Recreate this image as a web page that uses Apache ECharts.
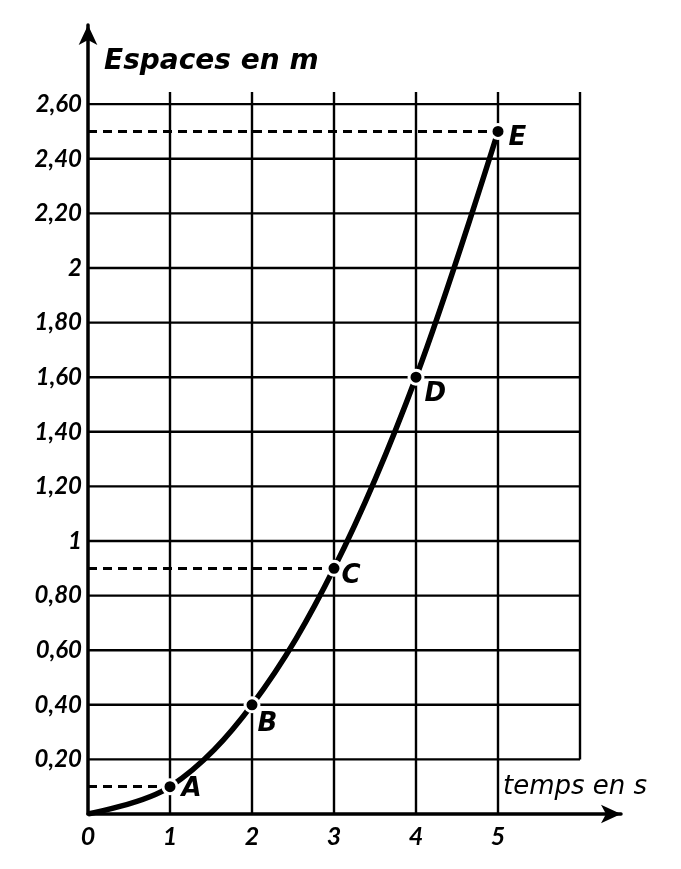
<!DOCTYPE html>
<html>
<head>
<meta charset="utf-8">
<script src="https://cdn.jsdelivr.net/npm/echarts@6/dist/echarts.min.js"></script>
<style>html,body{margin:0;padding:0;background:#fff}#c{width:681px;height:869px}</style>
</head>
<body>
<div id="c"></div>
<script>
// Data
const times = [0, 1, 2, 3, 4, 5];
const spaces = [0, 0.1, 0.4, 0.9, 1.6, 2.5];
const pointNames = ['', 'A', 'B', 'C', 'D', 'E'];
const dashedPoints = ['A', 'C', 'E'];
const xTickValues = [0, 1, 2, 3, 4, 5];
const xTickLabels = ['0', '1', '2', '3', '4', '5'];
const yTickValues = [0.2, 0.4, 0.6, 0.8, 1, 1.2, 1.4, 1.6, 1.8, 2, 2.2, 2.4, 2.6];
const yTickLabels = ['0,20', '0,40', '0,60', '0,80', '1', '1,20', '1,40', '1,60', '1,80', '2', '2,20', '2,40', '2,60'];
const xGridLines = [1, 2, 3, 4, 5, 6];
const yGridLines = [0.2, 0.4, 0.6, 0.8, 1, 1.2, 1.4, 1.6, 1.8, 2, 2.2, 2.4, 2.6];

// Styling (not data)
const INK = '#000';
const FONT = 'Lato';
const LETTER_FONT = 'DejaVu Sans';
const labelOffsets = { A: [0, 3], B: [-6, 19], C: [-4, 8], D: [-3, 17], E: [-1, 7] };

function lookup(vals, labels, v) {
  for (let i = 0; i < vals.length; i++) if (Math.abs(vals[i] - v) < 1e-6) return labels[i];
  return '';
}

const curveData = times.map((t, i) => {
  const n = pointNames[i];
  const item = { value: [t, spaces[i]], name: n };
  if (!n) {
    item.symbolSize = 0;
    item.label = { show: false };
  } else {
    item.label = { offset: labelOffsets[n] };
  }
  return item;
});
const markLines = dashedPoints.map(n => {
  const i = pointNames.indexOf(n);
  return [{ coord: [0, spaces[i]] }, { coord: [times[i], spaces[i]] }];
});

const chart = echarts.init(document.getElementById('c'));
chart.setOption({
  animation: false,
  backgroundColor: '#fff',
  grid: { left: 88, right: 60, top: 25, bottom: 55 },
  xAxis: {
    type: 'value', min: 0, max: 6.5, interval: 1,
    name: 'temps en s', nameLocation: 'end', nameGap: -118,
    nameTextStyle: { fontFamily: LETTER_FONT, fontStyle: 'italic', fontWeight: 'normal', fontSize: 26, color: INK, verticalAlign: 'bottom', padding: [0, 0, 14, 0] },
    axisLine: { lineStyle: { color: INK, width: 3.5 }, symbol: ['none', 'arrow'], symbolSize: [14, 20] },
    axisTick: { show: false },
    splitLine: { show: false },
    axisLabel: {
      margin: 10, fontFamily: FONT, fontStyle: 'italic', fontWeight: 'bold', fontSize: 25, color: INK,
      formatter: v => lookup(xTickValues, xTickLabels, v)
    }
  },
  yAxis: {
    type: 'value', min: 0, max: 2.89, interval: 0.2,
    name: 'Espaces en m', nameLocation: 'end', nameGap: -51,
    nameTextStyle: { fontFamily: LETTER_FONT, fontStyle: 'italic', fontWeight: 'bold', fontSize: 28, color: INK, align: 'left', padding: [0, 0, 0, 16] },
    axisLine: { lineStyle: { color: INK, width: 3.5 }, symbol: ['none', 'arrow'], symbolSize: [14, 20] },
    axisTick: { show: false },
    splitLine: { show: false },
    axisLabel: {
      margin: 6, fontFamily: FONT, fontStyle: 'italic', fontWeight: 'bold', fontSize: 24, color: INK,
      padding: [0, 0, 10, 0],
      formatter: v => lookup(yTickValues, yTickLabels, v)
    }
  },
  series: [
    {
      type: 'custom', silent: true, z: 1,
      data: xGridLines.map(x => [x, x === 6 ? 0.2 : 0]),
      renderItem: (params, api) => {
        const p1 = api.coord([api.value(0), api.value(1)]);
        const p2 = api.coord([api.value(0), 2.645]);
        return { type: 'line', shape: { x1: p1[0], y1: p1[1], x2: p2[0], y2: p2[1] }, style: { stroke: INK, lineWidth: 2.4 } };
      },
      clip: false
    },
    {
      type: 'custom', silent: true, z: 1,
      data: yGridLines.map(y => [0, y]),
      renderItem: (params, api) => {
        const p1 = api.coord([0, api.value(1)]);
        const p2 = api.coord([6, api.value(1)]);
        return { type: 'line', shape: { x1: p1[0], y1: p1[1], x2: p2[0], y2: p2[1] }, style: { stroke: INK, lineWidth: 2.4 } };
      },
      clip: false
    },
    {
      type: 'line', z: 5,
      data: curveData,
      smooth: 0.35,
      lineStyle: { color: INK, width: 5.5 },
      symbol: 'circle', symbolSize: 14,
      itemStyle: { color: INK, borderColor: '#fff', borderWidth: 3 },
      showAllSymbol: true,
      label: {
        show: true, position: 'right', distance: 3,
        fontFamily: LETTER_FONT, fontStyle: 'italic', fontWeight: 'bold', fontSize: 26, color: INK,
        formatter: p => p.name
      },
      markLine: {
        silent: true, symbol: ['none', 'none'], label: { show: false },
        lineStyle: { color: INK, width: 3, type: [9, 6] },
        data: markLines
      }
    }
  ]
});
</script>
</body>
</html>
